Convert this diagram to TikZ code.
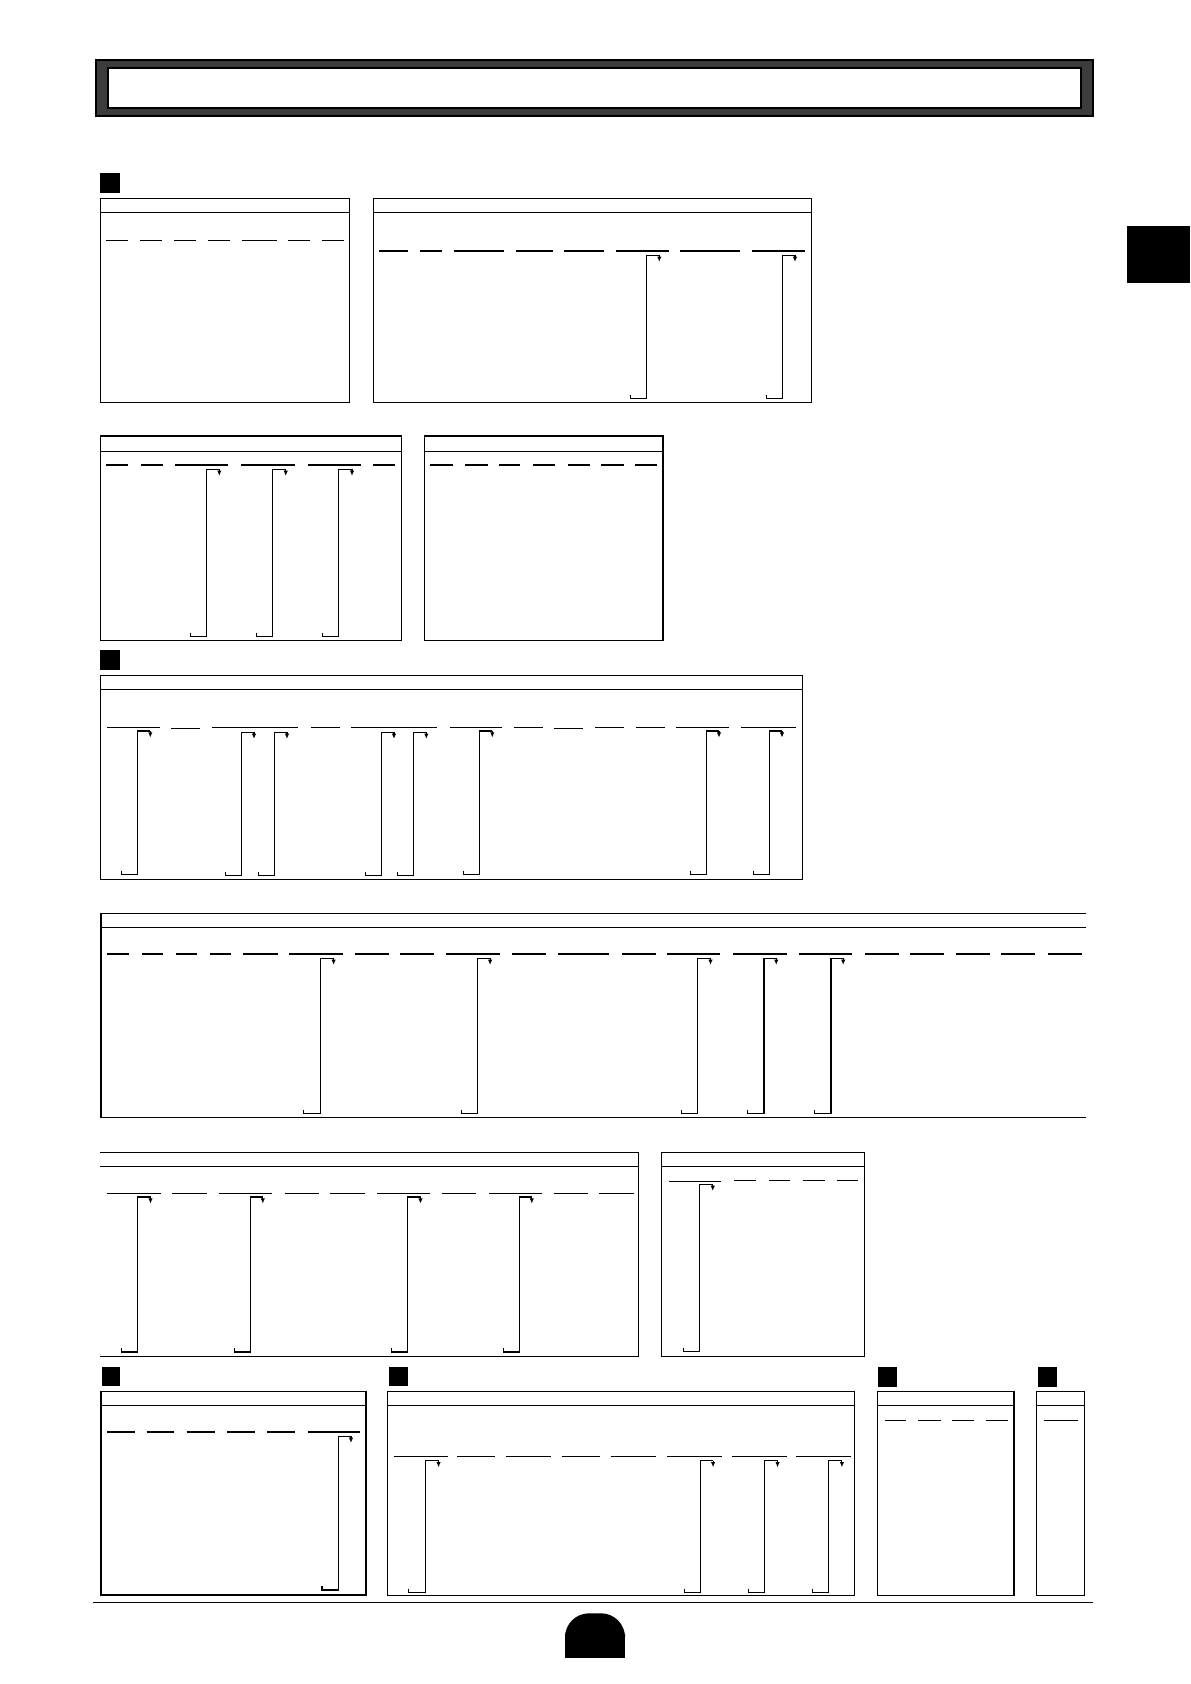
\documentclass[tikz,border=0pt]{standalone}
\usetikzlibrary{arrows.meta}
\definecolor{framegray}{HTML}{3C3C3C}
\tikzset{
  tabline/.style={line width=0.7pt,line cap=rect},
  blank/.style={line width=0.7pt},
  hookln/.style={line width=0.55pt},
  hookarr/.style={line width=0.55pt,-{Latex[length=2.6pt,width=2.2pt]}},
  marker/.style={fill=black}
}
% table with all four sides: #1 left, #2 right, #3 top, #4 header line, #5 bottom
\newcommand\formtab[5]{%
  \draw[tabline] (#1,#3) rectangle (#2,#5);
  \draw[tabline] (#1,#4) -- (#2,#4);}
% table open on the right side
\newcommand\formtabopen[5]{%
  \draw[tabline] (#2,#3) -- (#1,#3) -- (#1,#5) -- (#2,#5);
  \draw[tabline] (#1,#4) -- (#2,#4);}
% table open on the left side
\newcommand\formtabopenleft[5]{%
  \draw[tabline] (#1,#3) -- (#2,#3) -- (#2,#5) -- (#1,#5);
  \draw[tabline] (#1,#4) -- (#2,#4);}
% blank underlines: #1 y, #2 list a/b
\newcommand\blanklines[2]{%
  \foreach \a/\b in {#2} {\draw[blank] (\a,#1) -- (\b,#1);}}
% hooked connector: #1 top y, #2 bottom y, #3 list left/vertical/right
\newcommand\hooks[3]{%
  \foreach \l/\v/\r in {#3} {%
    \draw[hookln] (\l,#2-3.6) -- (\l,#2) -- (\v,#2) -- (\v,#1) -- (\r,#1);
    \draw[hookarr] (\r,#1) -- (\r,#1+6.6);}}
\begin{document}
\begin{tikzpicture}[x=0.5pt,y=-0.5pt]
\useasboundingbox (0,0) rectangle (1190,1684);
% title frame
\fill[framegray] (96,60) rectangle (1093,116);
\draw[line width=1pt] (96,60) rectangle (1093,116);
\fill[white] (108,68) rectangle (1081,108);
\draw[line width=1.3pt] (108,68) rectangle (1081,108);
% side tab
\fill (1127,226) rectangle (1190,283);
% section markers
\fill[marker] (100,173) rectangle (120,193);
\fill[marker] (100,650) rectangle (120,670);
\fill[marker] (101.6,1367) rectangle (120.3,1386);
\fill[marker] (389,1367) rectangle (407.5,1386);
\fill[marker] (878,1367) rectangle (896.7,1386.5);
\fill[marker] (1037.8,1367) rectangle (1056.5,1386.5);

% ---- Table 1
\formtab{100.3}{349.7}{198.3}{212.3}{402.3}
\blanklines{240.3}{106/127.7, 140/161.7, 174/196, 208/230, 242/277, 288/310, 322/344}
% ---- Table 2
\formtab{373.3}{811.7}{198.3}{212.3}{402.3}
\blanklines{251}{379/407.7, 420/441.7, 454.3/504, 516/552.7, 564/603.7, 616/668.7, 680/739.7, 752/805}
\hooks{255.3}{398.3}{630.3/646.3/659.3, 766.3/782.3/795}
% ---- Table 3
\formtab{100.3}{401.7}{436}{451.5}{640.3}
\blanklines{465}{106/127.7, 141/163, 175/228, 241/295, 308/361, 373/395}
\hooks{469.3}{636.3}{190.3/206.3/219.3, 256.3/272.7/285.7, 322.3/338.7/352}
% ---- Table 4
\formtab{424.4}{662.8}{436}{451.5}{640.3}
\blanklines{465}{430.2/452.8, 465/487.6, 499.2/520.4, 533.3/555.2, 567.5/590, 601/623.5, 635.1/657}
% ---- Table 5
\formtab{100.3}{802.7}{675.3}{689.3}{879.3}
\blanklines{727.3}{107/160, 212/298, 311/340, 351/437, 450/502, 514/543, 595/624, 636/665, 676/729, 741/796}
\blanklines{728.3}{171/200, 554/583}
\hooks{731}{874.3}{121.3/137.3/150.3, 463.3/479.3/492.3, 690.3/706.3/719, 753.3/769.3/782}
\hooks{732.3}{875.3}{225.3/241.3/254, 258.3/274.3/287, 365.3/381.3/394, 397.3/413.3/426.3}
% ---- Table 6
\formtabopen{101}{1085.5}{913.3}{927.3}{1117.3}
\blanklines{954}{107.4/128.7, 141.5/162.8, 175.7/197, 209.8/231.1, 243.4/277.5, 289.1/342.6, 354.8/389, 399.9/434.1, 446.3/500.4, 512/546.2, 558.4/609.3, 621.6/655.7, 667.3/720.2, 733/786.5, 798.8/852.2, 865.1/899.3, 910.2/944.4, 956/990.1, 1001.1/1035.2, 1047.5/1081.6}
\hooks{958.3}{1113.3}{303.9/320.7/333.6, 461.8/477.2/490.1, 681.5/697.6/710.5, 747.9/764/776.2, 814.9/831/843.2}
% ---- Table 7
\formtabopenleft{101.1}{638.6}{1152.3}{1166.3}{1356.3}
\blanklines{1193.3}{107.1/161, 172.1/206.9, 219/271.9, 285/318.7, 329.8/364.6, 377.2/430, 442.1/475.9, 489/541.9, 554/587.7, 598.8/634.1}
\hooks{1197}{1352}{121.7/137.4/150.5, 234.6/250.7/262.8, 391.3/407.4/420.5, 503.6/519.2/531.8}
% ---- Table 8
\formtab{661.3}{864.3}{1152.3}{1166.3}{1356.3}
\blanklines{1181.3}{669.3/721.2}
\blanklines{1180.3}{734.3/756, 769.1/790.3, 802.8/824.5, 837.1/858.3}
\hooks{1184.3}{1351.3}{683.4/699.6/712.7}
% ---- Table 9
\formtab{101}{365.8}{1391.3}{1405.3}{1595}
\blanklines{1432}{107.4/135.1, 146.7/174.4, 186.6/215, 227.2/255, 267.2/294.9, 307.8/360}
\hooks{1436.3}{1590}{322/338.7/351}
% ---- Table 10
\formtab{387.7}{854.3}{1391.3}{1405.3}{1595.3}
\blanklines{1456.3}{393.5/448.2, 457.3/495.3, 506.2/550.7, 562.3/600.3, 610.6/656.4, 667.3/722.1, 732.4/787.2, 796.2/851}
\hooks{1460.7}{1592.3}{408.9/425.7/438.6, 684.3/700.3/713.1, 748.3/764.3/777.5, 812.3/828.3/841.9}
% ---- Table 11
\formtab{877.4}{1014}{1391.3}{1405.3}{1595.3}
\blanklines{1420.3}{884.5/906.4, 918/940.5, 952.1/974, 986.3/1008.2}
% ---- Table 12
\formtab{1036.5}{1084.2}{1391.3}{1405.3}{1595.3}
\blanklines{1420.3}{1043.6/1078.4}
% bottom rule and page badge
\draw[line width=0.75pt] (93.2,1602.3) -- (1093.2,1602.3);
\fill[rounded corners=12pt] (565,1657.7) -- (565,1613.3) -- (625,1613.3) -- (625,1657.7) -- cycle;
\fill (565,1636) rectangle (625,1657.7);
\end{tikzpicture}
\end{document}
